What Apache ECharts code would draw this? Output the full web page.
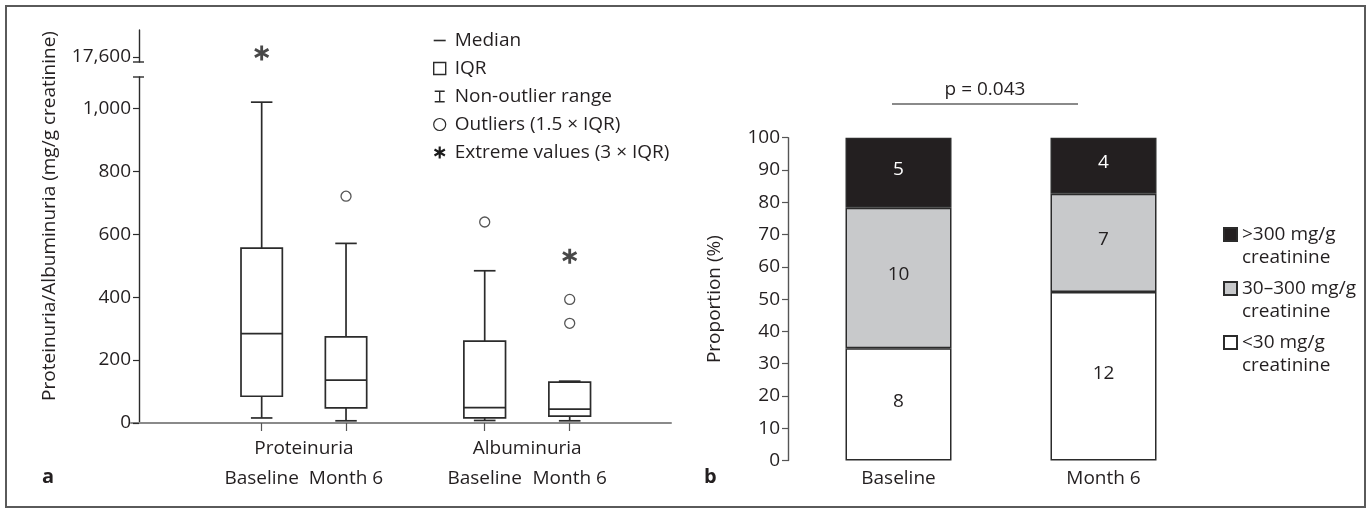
<!DOCTYPE html>
<html><head><meta charset="utf-8">
<script src="https://cdn.jsdelivr.net/npm/echarts@6/dist/echarts.min.js"></script>
<style>html,body{margin:0;padding:0;background:#fff}#c{width:1370px;height:513px}</style>
</head><body><div id="c"></div>
<script>
// ---------- DATA ----------
const groupNames = ['Proteinuria', 'Albuminuria'];
const timepoints = ['Baseline', 'Month 6'];
// each row: [timepoint index, lower whisker, Q1, median, Q3, upper whisker]
const proteinuriaBoxes = [[0, 16, 85, 284, 556, 1020], [1, 7, 48, 136, 274, 571]];
const albuminuriaBoxes = [[0, 8, 16, 49, 260, 484], [1, 7, 22, 44, 130, 133]];
const proteinuriaOutliers = [[1, 721]];
const albuminuriaOutliers = [[0, 639], [1, 393], [1, 317]];
const proteinuriaExtremes = [[0, 17600]];
const albuminuriaExtremes = [[1, 530]];
const yTickValuesA = [0, 200, 400, 600, 800, 1000];
const breakTickValues = [17600];
const legendAItems = ['Median', 'IQR', 'Non-outlier range', 'Outliers (1.5 × IQR)', 'Extreme values (3 × IQR)'];
const yAxisATitle = 'Proteinuria/Albuminuria (mg/g creatinine)';

const barCategories = ['Baseline', 'Month 6'];
const stageNames = ['>300 mg/g\ncreatinine', '30–300 mg/g\ncreatinine', '<30 mg/g\ncreatinine'];
const countsHigh = [5, 4];
const countsMid = [10, 7];
const countsLow = [8, 12];
const yAxisBTitle = 'Proportion (%)';
const pValueText = 'p = 0.043';

// ---------- HELPERS ----------
const FONT = "'Open Sans', 'DejaVu Sans', sans-serif";
const TXT = '#231f20';
const LINE = '#2b2b2b';
const FS = 19;
const totals = countsLow.map((v, i) => v + countsMid[i] + countsHigh[i]);
const pct = arr => arr.map((v, i) => ({ value: v / totals[i] * 100, count: v }));

function asteriskPath() {
  const r = 10, w = 1.8;
  let d = '';
  [90, 30, 150].forEach(a => {
    const t = a * Math.PI / 180, dx = Math.cos(t), dy = -Math.sin(t);
    const px = -dy * w, py = dx * w;
    const p = [[r * dx + px, r * dy + py], [r * dx - px, r * dy - py], [-r * dx - px, -r * dy - py], [-r * dx + px, -r * dy + py]];
    d += 'M' + p.map(q => q[0].toFixed(2) + ',' + q[1].toFixed(2)).join('L') + 'Z';
  });
  return 'path://' + d;
}
const STAR = asteriskPath();
const IBEAM = 'path://M0,0H10V1.4H5.7V10.6H10V12H0V10.6H4.3V1.4H0Z';
const DASH = 'path://M0,0H12V1.6H0Z';

function renderBox(params, api) {
  const x = api.value(0);
  const low = api.coord([x, api.value(1)]);
  const q1 = api.coord([x, api.value(2)]);
  const med = api.coord([x, api.value(3)]);
  const q3 = api.coord([x, api.value(4)]);
  const high = api.coord([x, api.value(5)]);
  const band = api.size([1, 0])[0];
  const bw = band * 0.49, cw = bw * 0.52;
  const cx = low[0];
  const st = { stroke: LINE, lineWidth: 1.7, fill: null };
  return {
    type: 'group', children: [
      { type: 'line', shape: { x1: cx, y1: high[1], x2: cx, y2: q3[1] }, style: st },
      { type: 'line', shape: { x1: cx, y1: q1[1], x2: cx, y2: low[1] }, style: st },
      { type: 'line', shape: { x1: cx - cw / 2, y1: high[1], x2: cx + cw / 2, y2: high[1] }, style: st },
      { type: 'line', shape: { x1: cx - cw / 2, y1: low[1], x2: cx + cw / 2, y2: low[1] }, style: st },
      { type: 'rect', shape: { x: cx - bw / 2, y: q3[1], width: bw, height: q1[1] - q3[1] }, style: { stroke: LINE, lineWidth: 1.7, fill: '#fff' } },
      { type: 'line', shape: { x1: cx - bw / 2, y1: med[1], x2: cx + bw / 2, y2: med[1] }, style: st }
    ]
  };
}

const catAxis = (grid, name) => ({
  type: 'category', gridIndex: grid, data: timepoints,
  axisLine: { show: false },
  axisTick: { show: true, interval: 0, alignWithLabel: true, length: 8, inside: false, lineStyle: { color: '#555', width: 1.2 } },
  axisLabel: { interval: 0, margin: 46, color: TXT, fontSize: FS, fontFamily: FONT, hideOverlap: false },
  name: name, nameLocation: 'middle', nameGap: 16, nameMoveOverlap: false,
  nameTextStyle: { color: TXT, fontSize: FS, fontFamily: FONT, verticalAlign: 'top' }
});
const valAxisA = (grid, show, extra) => Object.assign({
  type: 'value', gridIndex: grid, min: 0, max: 1100, interval: 200,
  offset: 80.5,
  axisLine: { show: show, lineStyle: { color: LINE, width: 1.4 } },
  axisTick: { show: show, length: 6, customValues: yTickValuesA, lineStyle: { color: LINE, width: 1.2 } },
  axisLabel: { show: show, margin: 8, customValues: yTickValuesA, color: TXT, fontSize: FS, fontFamily: FONT, formatter: v => Number(v).toLocaleString('en-US') },
  splitLine: { show: false }
}, extra || {});

const option = {
  animation: false,
  backgroundColor: '#fff',
  textStyle: { fontFamily: FONT },
  grid: [
    { left: 219.5, width: 168.7, top: 77, height: 346 },   // 0 proteinuria
    { left: 442.2, width: 170, top: 77, height: 346 },     // 1 albuminuria
    { left: 219.5, width: 168.7, top: 30, height: 32 },    // 2 proteinuria break segment
    { left: 131, width: 540, top: 77, height: 346 },       // 3 baseline helper
    { left: 796, width: 410, top: 137.7, height: 322.8 }   // 4 panel b
  ],
  xAxis: [
    catAxis(0, groupNames[0]),
    catAxis(1, groupNames[1]),
    { type: 'category', gridIndex: 2, data: timepoints, show: false },
    { type: 'value', gridIndex: 3, min: 0, max: 1, axisLine: { show: true, onZero: false, lineStyle: { color: '#8a8a8a', width: 2 } }, axisTick: { show: false }, axisLabel: { show: false }, splitLine: { show: false } },
    { type: 'category', gridIndex: 4, data: barCategories, axisLine: { show: false }, axisTick: { show: false },
      axisLabel: { interval: 0, margin: 9, color: TXT, fontSize: FS, fontFamily: FONT } }
  ],
  yAxis: [
    valAxisA(0, true, {
      name: yAxisATitle, nameLocation: 'middle', nameGap: 80, nameRotate: 90, nameMoveOverlap: false,
      nameTextStyle: { color: TXT, fontSize: FS, fontFamily: FONT, padding: [0, 0, 0, 68] }
    }),
    valAxisA(1, false),
    { type: 'value', gridIndex: 2, min: 17500, max: 18140, offset: 80.5,
      axisLine: { show: true, lineStyle: { color: LINE, width: 1.4 } },
      axisTick: { show: true, length: 6, customValues: breakTickValues, lineStyle: { color: LINE, width: 1.2 } },
      axisLabel: { show: true, margin: 8, customValues: breakTickValues, color: TXT, fontSize: FS, fontFamily: FONT, formatter: v => Number(v).toLocaleString('en-US') },
      splitLine: { show: false } },
    { type: 'value', gridIndex: 3, show: false, min: 0, max: 1 },
    { type: 'value', gridIndex: 4, min: 0, max: 100, interval: 10, offset: 8,
      axisLine: { show: true, lineStyle: { color: '#555', width: 1.4 } },
      axisTick: { show: true, length: 6, lineStyle: { color: '#555', width: 1.2 } },
      axisLabel: { margin: 8, color: TXT, fontSize: FS, fontFamily: FONT },
      splitLine: { show: false },
      name: yAxisBTitle, nameLocation: 'middle', nameGap: 64, nameMoveOverlap: false,
      nameTextStyle: { color: TXT, fontSize: FS, fontFamily: FONT } }
  ],
  legend: [
    { data: [
        { name: legendAItems[0], icon: DASH, itemStyle: { color: LINE } },
        { name: legendAItems[1], icon: 'rect', itemStyle: { color: '#fff', borderColor: LINE, borderWidth: 1.4 } },
        { name: legendAItems[2], icon: IBEAM, itemStyle: { color: LINE } },
        { name: legendAItems[3], icon: 'circle', itemStyle: { color: '#fff', borderColor: LINE, borderWidth: 1.2 } },
        { name: legendAItems[4], icon: STAR, itemStyle: { color: '#1a1a1a' } }
      ],
      orient: 'vertical', left: 428, top: 26, itemWidth: 12, itemHeight: 12, itemGap: 9,
      selectedMode: false,
      textStyle: { color: TXT, fontSize: FS, fontFamily: FONT, padding: [0, 0, 0, 4] } },
    { data: stageNames.map(n => ({ name: n, icon: 'rect' })), orient: 'vertical', left: 1218, top: 195, itemWidth: 13, itemHeight: 13, itemGap: -15,
      selectedMode: false,
      formatter: n => '\u00a0\n' + n,
      textStyle: { color: TXT, fontSize: FS, fontFamily: FONT, lineHeight: 23, padding: [0, 0, 0, 0] } }
  ],
  series: [
    // legend placeholders for panel a (no data)
    ...legendAItems.map(n => ({ type: 'line', name: n, data: [], xAxisIndex: 3, yAxisIndex: 3 })),
    { type: 'custom', name: 'Proteinuria boxes', xAxisIndex: 0, yAxisIndex: 0, renderItem: renderBox, data: proteinuriaBoxes, z: 5 },
    { type: 'custom', name: 'Albuminuria boxes', xAxisIndex: 1, yAxisIndex: 1, renderItem: renderBox, data: albuminuriaBoxes, z: 5 },
    { type: 'scatter', name: 'Proteinuria outliers', xAxisIndex: 0, yAxisIndex: 0, data: proteinuriaOutliers, symbol: 'circle', symbolSize: 10,
      itemStyle: { color: '#fff', borderColor: LINE, borderWidth: 1.3 }, z: 6 },
    { type: 'scatter', name: 'Albuminuria outliers', xAxisIndex: 1, yAxisIndex: 1, data: albuminuriaOutliers, symbol: 'circle', symbolSize: 10,
      itemStyle: { color: '#fff', borderColor: LINE, borderWidth: 1.3 }, z: 6 },
    { type: 'scatter', name: 'Proteinuria extremes', xAxisIndex: 2, yAxisIndex: 2, data: proteinuriaExtremes, symbol: STAR, symbolSize: 15, symbolOffset: [0, -4],
      itemStyle: { color: '#1a1a1a' }, z: 6 },
    { type: 'scatter', name: 'Albuminuria extremes', xAxisIndex: 1, yAxisIndex: 1, data: albuminuriaExtremes, symbol: STAR, symbolSize: 15,
      itemStyle: { color: '#1a1a1a' }, z: 6 },
    // panel b stacked bars (bottom to top)
    { type: 'bar', name: stageNames[2], xAxisIndex: 4, yAxisIndex: 4, stack: 'p', barWidth: 106, data: pct(countsLow),
      itemStyle: { color: '#ffffff', borderColor: LINE, borderWidth: 1.5 },
      label: { show: true, position: 'inside', offset: [0, -3], formatter: p => p.data.count, color: TXT, fontSize: FS, fontFamily: FONT } },
    { type: 'bar', name: stageNames[1], xAxisIndex: 4, yAxisIndex: 4, stack: 'p', barWidth: 106, data: pct(countsMid),
      itemStyle: { color: '#c8c9cb', borderColor: LINE, borderWidth: 1.5 },
      label: { show: true, position: 'inside', offset: [0, -3], formatter: p => p.data.count, color: TXT, fontSize: FS, fontFamily: FONT } },
    { type: 'bar', name: stageNames[0], xAxisIndex: 4, yAxisIndex: 4, stack: 'p', barWidth: 106, data: pct(countsHigh),
      itemStyle: { color: '#231f20', borderColor: LINE, borderWidth: 1.5 },
      label: { show: true, position: 'inside', offset: [0, -3], formatter: p => p.data.count, color: '#ffffff', fontSize: FS, fontFamily: FONT } }
  ],
  graphic: [
    { type: 'rect', shape: { x: 6, y: 6, width: 1359, height: 501 }, style: { fill: null, stroke: '#5a5a5a', lineWidth: 2 }, silent: true },
    // axis break caps
    { type: 'line', shape: { x1: 133, y1: 62, x2: 144, y2: 62 }, style: { stroke: LINE, lineWidth: 1.4 } },
    { type: 'line', shape: { x1: 133, y1: 77, x2: 144, y2: 77 }, style: { stroke: LINE, lineWidth: 1.4 } },
    // panel labels
    { type: 'text', left: 42, top: 467, style: { text: 'a', font: "bold 20px " + FONT, fill: TXT } },
    { type: 'text', left: 704, top: 467, style: { text: 'b', font: "bold 20px " + FONT, fill: TXT } },
    // p value annotation
    { type: 'text', x: 985, y: 90, style: { text: pValueText, font: FS + "px " + FONT, fill: TXT, align: 'center', verticalAlign: 'middle' } },
    { type: 'line', shape: { x1: 892, y1: 104, x2: 1078, y2: 104 }, style: { stroke: '#8a8a8a', lineWidth: 2 } }
  ]
};

const chart = echarts.init(document.getElementById('c'), null, { renderer: 'canvas' });
chart.setOption(option);
</script>
</body></html>
